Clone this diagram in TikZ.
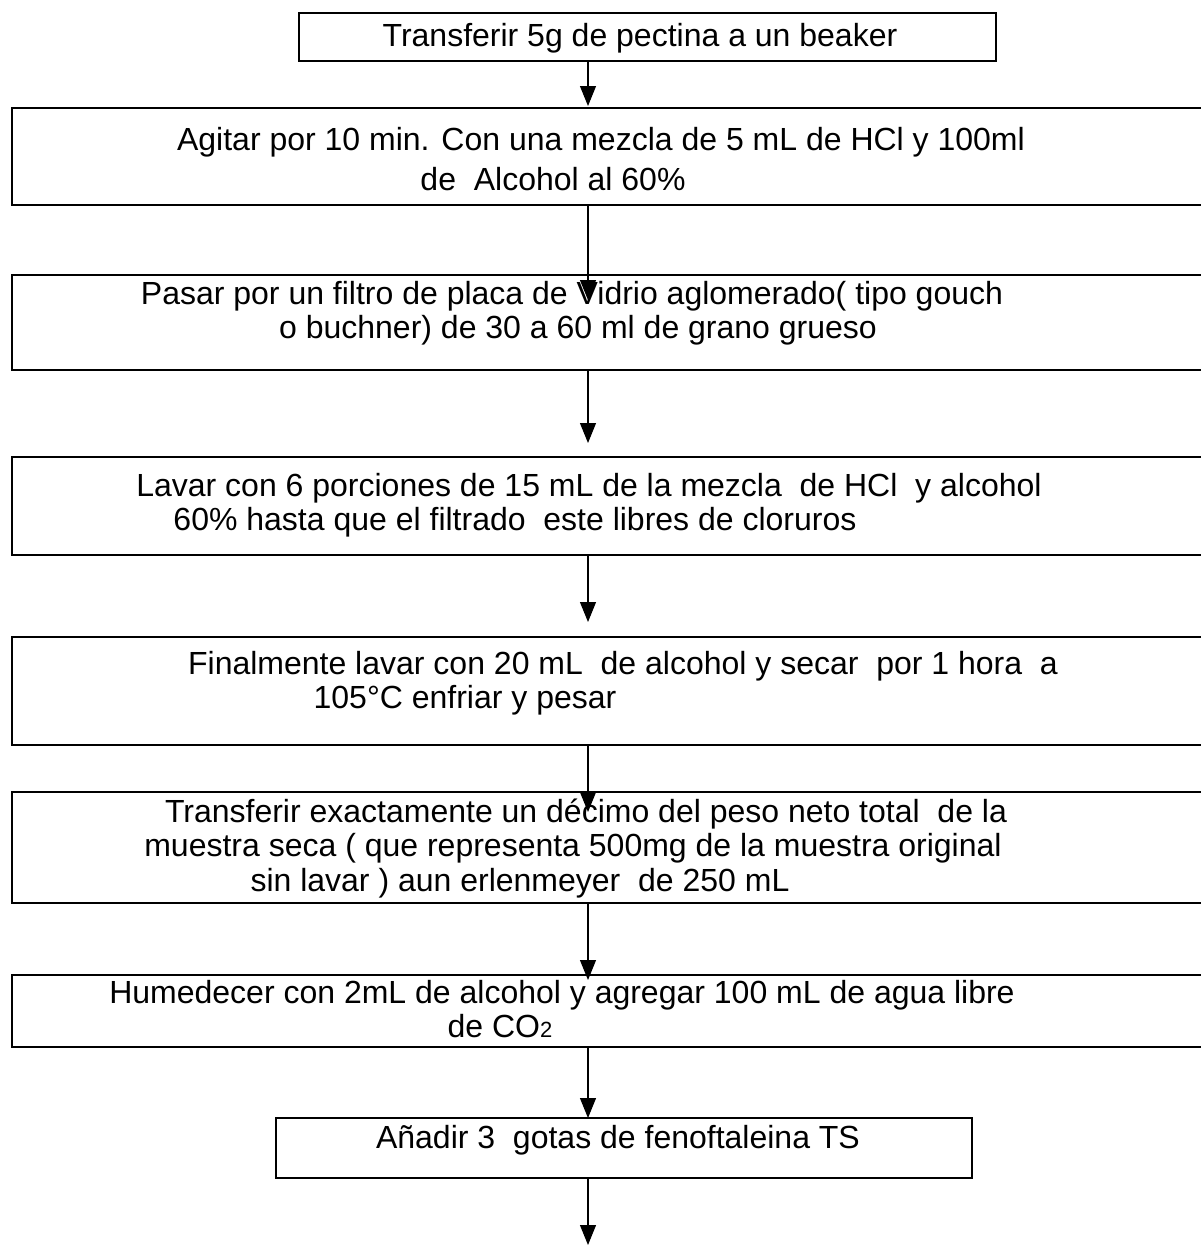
\documentclass[tikz,border=0pt]{standalone}
\usepackage{fontspec}
\setmainfont{Liberation Sans}
\usepackage{tikz}
\usetikzlibrary{arrows.meta}

\tikzset{
    stepbox/.style={draw, line width=1.6pt, inner sep=0pt},
    steptext/.style={anchor=base, inner sep=0pt, font=\fontsize{32}{36}\selectfont},
    flow/.style={->, line width=1.1pt}
}

\begin{document}
\begin{tikzpicture}[x=1pt, y=-1pt, >={Triangle[length=20pt, width=16pt]}]

    % Marco
    \clip (0,0) rectangle (1201,1245);
    \fill[white] (0,0) rectangle (1201,1245);
    \coordinate (col) at (588,0);

    % Cajas
    \node[stepbox, minimum width=697pt, minimum height=48pt] (b1) at (647.5,37) {};
    \node[stepbox, minimum width=1203pt, minimum height=97pt] (b2) at (613.5,156.5) {};
    \node[stepbox, minimum width=1203pt, minimum height=95pt] (b3) at (613.5,322.5) {};
    \node[stepbox, minimum width=1203pt, minimum height=98pt] (b4) at (613.5,506) {};
    \node[stepbox, minimum width=1203pt, minimum height=108pt] (b5) at (613.5,691) {};
    \node[stepbox, minimum width=1203pt, minimum height=111pt] (b6) at (613.5,847.5) {};
    \node[stepbox, minimum width=1203pt, minimum height=72pt] (b7) at (613.5,1011) {};
    \node[stepbox, minimum width=696pt, minimum height=60pt] (b8) at (624,1148) {};

    % Textos
    \node[steptext] (t1) at (640,46) {Transferir 5g de pectina a un beaker};
    \node[steptext] (t2a) at (601,150) {Agitar por 10 min. Con una mezcla de 5 mL de HCl y 100ml};
    \node[steptext] (t2b) at (553,190) {de\ \ Alcohol al 60\%};
    \node[steptext] (t3a) at (572,304) {Pasar por un filtro de placa de Vidrio aglomerado( tipo gouch};
    \node[steptext] (t3b) at (578,338) {o buchner) de 30 a 60 ml de grano grueso};
    \node[steptext] (t4a) at (589,496) {Lavar con 6 porciones de 15 mL de la mezcla\ \ de HCl\ \ y alcohol};
    \node[steptext] (t4b) at (515,530) {60\% hasta que el filtrado\ \ este libres de cloruros};
    \node[steptext] (t5a) at (623,674) {Finalmente lavar con 20 mL\ \ de alcohol y secar\ \ por 1 hora\ \ a};
    \node[steptext] (t5b) at (465,708) {105°C enfriar y pesar};
    \node[steptext] (t6a) at (586,822) {Transferir exactamente un décimo del peso neto total\ \ de la};
    \node[steptext] (t6b) at (573,856) {muestra seca ( que representa 500mg de la muestra original};
    \node[steptext] (t6c) at (520,891) {sin lavar ) aun erlenmeyer\ \ de 250 mL};
    \node[steptext] (t7a) at (562,1003) {Humedecer con 2mL de alcohol y agregar 100 mL de agua libre};
    \node[steptext] (t7b) at (500,1037) {de CO{\fontsize{22}{22}\selectfont 2}};
    \node[steptext] (t8) at (618,1148) {Añadir 3\ \ gotas de fenoftaleina TS};

    % Puntas de las flechas
    \coordinate (e2) at (588,106);
    \coordinate (e3) at (588,300);
    \coordinate (e4) at (588,443);
    \coordinate (e5) at (588,622);
    \coordinate (e6) at (588,812);
    \coordinate (e7) at (588,980);
    \coordinate (e8) at (588,1118);
    \coordinate (e9) at (588,1245);

    % Flechas
    \foreach \a/\b in {b1/e2, b2/e3, b3/e4, b4/e5, b5/e6, b6/e7, b7/e8, b8/e9}{
        \draw[flow] (\a.south -| col) -- (\b);
    }

\end{tikzpicture}
\end{document}
